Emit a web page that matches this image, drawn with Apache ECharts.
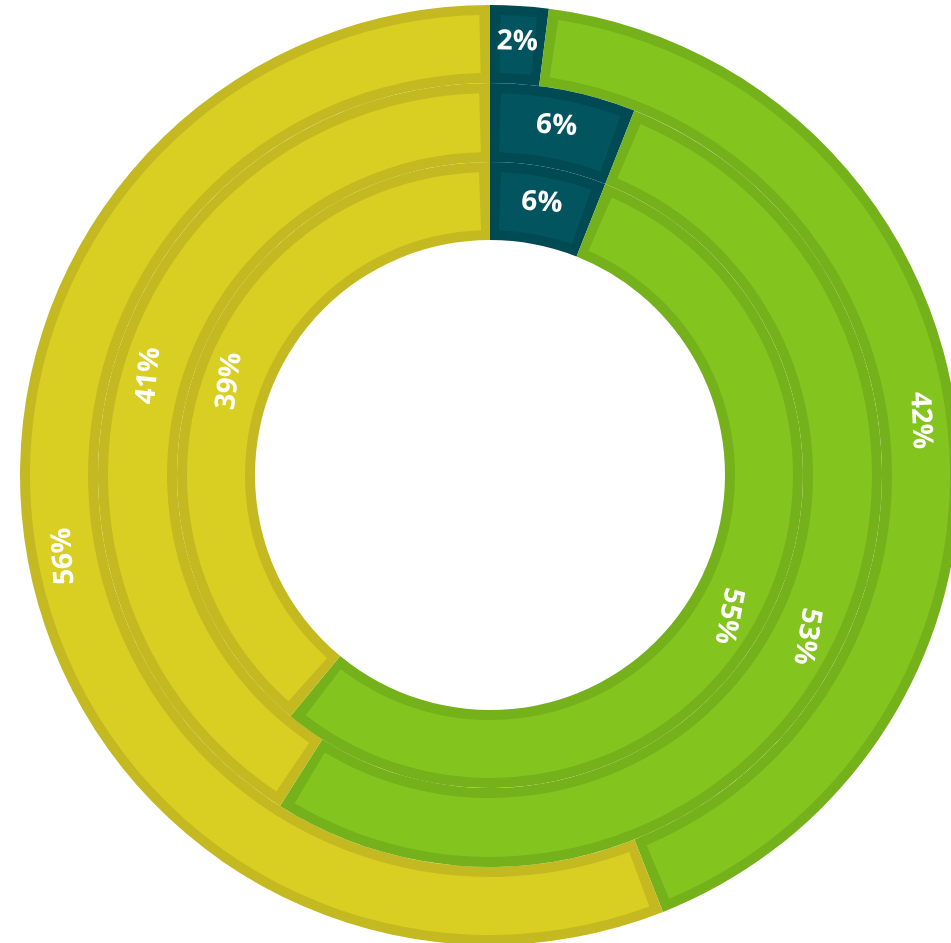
<!DOCTYPE html>
<html><head><meta charset="utf-8">
<script src="https://cdn.jsdelivr.net/npm/echarts@6/dist/echarts.min.js"></script>
<style>html,body{margin:0;padding:0;background:#fff}#c{width:951px;height:943px}</style>
</head><body><div id="c"></div>
<script>
// ---- data ----
const categories = ['Segment A', 'Segment B', 'Segment C'];
const outerValues = [2, 42, 56];
const middleValues = [6, 53, 41];
const innerValues = [6, 55, 39];

// ---- styles ----
const fillColors = ['#02555F', '#84C41E', '#D9CF22'];
const edgeColors = ['#004A54', '#74B11B', '#C4B920'];
const center = [490, 475];
const rings = [
  { values: outerValues, radius: [392, 470] },
  { values: middleValues, radius: [313, 392] },
  { values: innerValues, radius: [235, 313] }
];
const inset = 10;

function labelRotations(values) {
  const total = values.reduce((a, b) => a + b, 0);
  let acc = 0;
  return values.map(v => {
    const theta = (acc + v / 2) / total * 360;
    acc += v;
    const snap = Math.round(theta / 90) * 90;
    return -(theta + (snap - theta) * 0.65);
  });
}

const series = [];
rings.forEach((ring, ri) => {
  const rots = labelRotations(ring.values);
  const mid = (ring.radius[0] + ring.radius[1]) / 2;
  // darker edge layer
  series.push({
    type: 'pie', silent: true, animation: false,
    center: center, radius: ring.radius, startAngle: 90, clockwise: true,
    label: { show: false }, labelLine: { show: false },
    itemStyle: { borderWidth: 0 },
    data: ring.values.map((v, i) => ({ name: categories[i], value: v, itemStyle: { color: edgeColors[i] } }))
  });
  // lighter fill layer with labels
  series.push({
    type: 'pie', silent: true, animation: false,
    center: center, radius: [ring.radius[0] + inset, ring.radius[1] - inset],
    startAngle: 90, clockwise: true,
    padAngle: (2 * inset / mid) * 180 / Math.PI,
    avoidLabelOverlap: false,
    labelLine: { show: false },
    itemStyle: { borderWidth: 0 },
    label: {
      show: true, position: 'inside', formatter: '{c}%',
      color: '#ffffff', fontFamily: 'Open Sans', fontSize: 28, fontWeight: 'bold'
    },
    data: ring.values.map((v, i) => ({
      name: categories[i], value: v,
      itemStyle: { color: fillColors[i] },
      label: { rotate: rots[i] }
    }))
  });
});

const chart = echarts.init(document.getElementById('c'), null, { renderer: 'canvas' });
chart.setOption({ animation: false, backgroundColor: '#ffffff', series: series });
</script>
</body></html>
